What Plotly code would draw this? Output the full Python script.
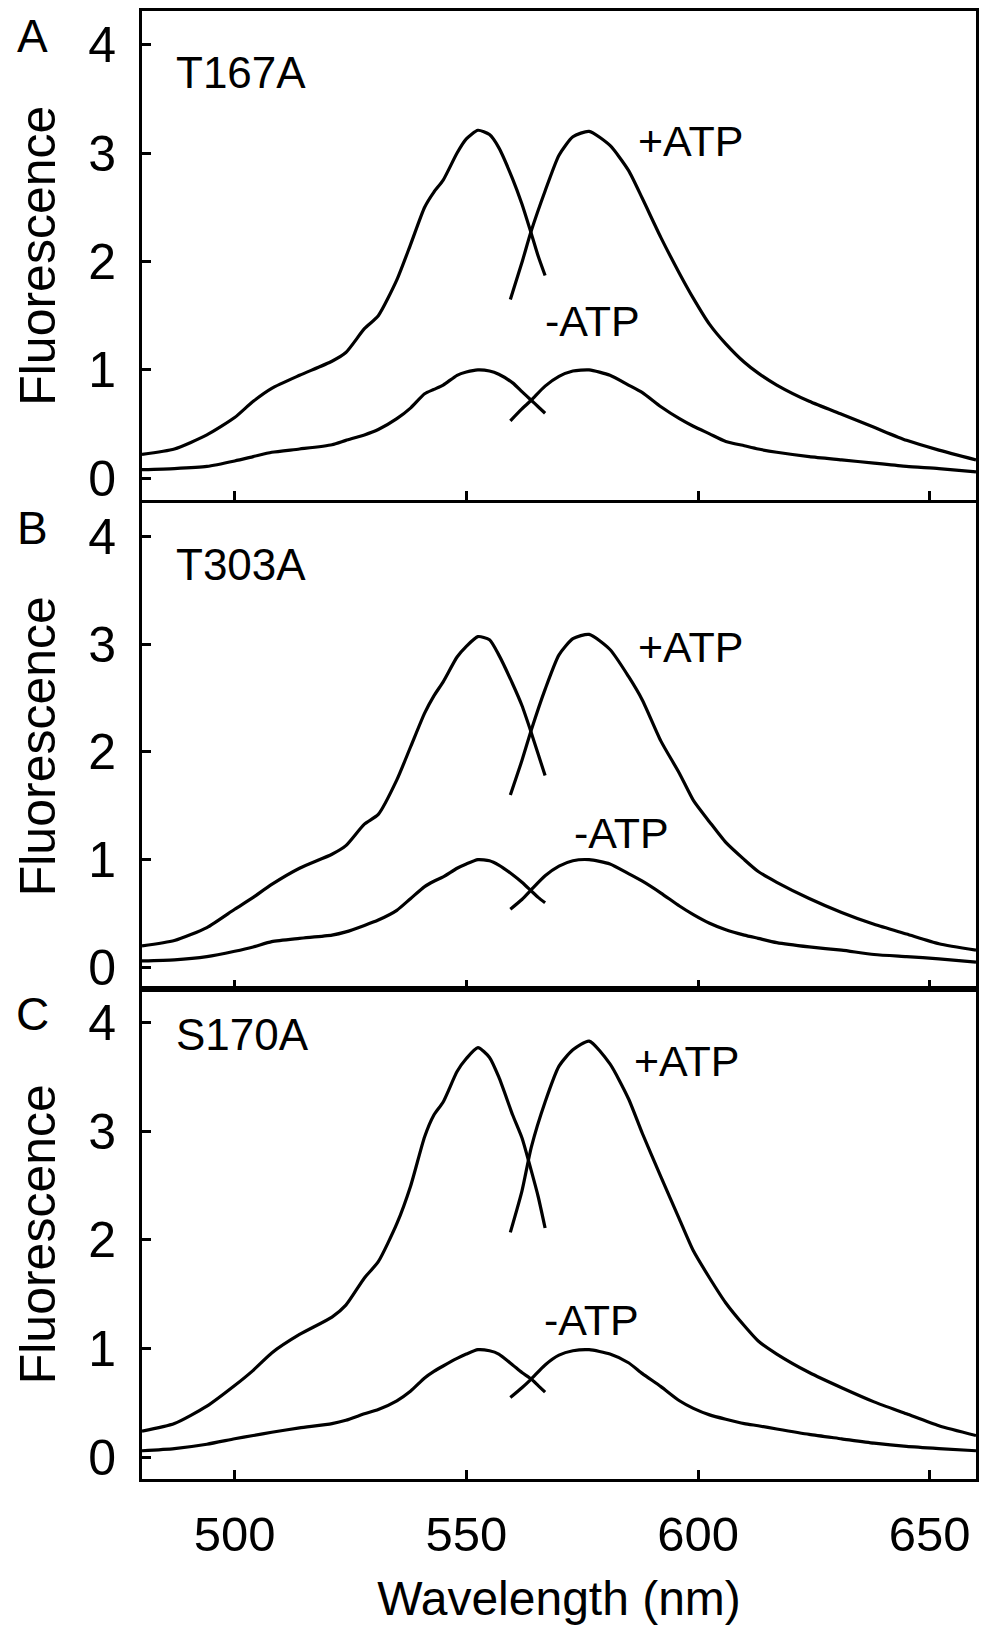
import plotly.graph_objects as go
from plotly.subplots import make_subplots

## wavelength grids (nm) for the two halves of each spectrum
wl_donor = [480, 487, 494, 500, 504, 508, 514, 521, 524, 528, 531, 535, 538, 541, 543, 545,
            548, 550, 552.5, 555, 557, 560, 562, 564, 565.5, 567]
wl_acceptor = [559.5, 562, 564, 567, 570, 573, 576.5, 581, 585, 588, 592, 596, 599, 602.5,
               606, 610, 613, 617, 624, 631, 638, 645, 652, 660]

## panel A - T167A
t167a_plus_donor = [0.22, 0.27, 0.40, 0.56, 0.71, 0.83, 0.95, 1.08, 1.16, 1.38, 1.50, 1.83, 2.16,
                    2.50, 2.64, 2.75, 3.00, 3.13, 3.21, 3.17, 3.05, 2.76, 2.53, 2.26, 2.05, 1.87]
t167a_plus_acceptor = [1.65, 1.99, 2.28, 2.65, 2.98, 3.15, 3.20, 3.07, 2.84, 2.58, 2.22, 1.89, 1.66,
                       1.42, 1.24, 1.07, 0.97, 0.86, 0.71, 0.59, 0.47, 0.35, 0.26, 0.17]
t167a_minus_donor = [0.08, 0.09, 0.11, 0.16, 0.20, 0.24, 0.27, 0.31, 0.35, 0.40, 0.45, 0.55, 0.65,
                     0.78, 0.82, 0.86, 0.95, 0.98, 1.00, 0.99, 0.96, 0.88, 0.80, 0.72, 0.66, 0.60]
t167a_minus_acceptor = [0.53, 0.64, 0.72, 0.85, 0.94, 0.99, 1.00, 0.95, 0.86, 0.79, 0.66, 0.55, 0.48,
                        0.41, 0.34, 0.30, 0.27, 0.24, 0.20, 0.17, 0.14, 0.11, 0.09, 0.06]

## panel B - T303A
t303a_plus_donor = [0.20, 0.25, 0.37, 0.54, 0.65, 0.77, 0.92, 1.05, 1.13, 1.33, 1.42, 1.74, 2.05,
                    2.36, 2.52, 2.65, 2.88, 2.98, 3.07, 3.04, 2.90, 2.63, 2.43, 2.18, 1.98, 1.78]
t303a_plus_acceptor = [1.60, 1.92, 2.20, 2.58, 2.90, 3.05, 3.09, 2.95, 2.70, 2.48, 2.10, 1.80, 1.55,
                       1.35, 1.16, 1.00, 0.89, 0.79, 0.64, 0.51, 0.40, 0.31, 0.22, 0.16]
t303a_minus_donor = [0.06, 0.07, 0.10, 0.15, 0.19, 0.24, 0.27, 0.30, 0.33, 0.39, 0.44, 0.53, 0.64,
                     0.75, 0.80, 0.84, 0.92, 0.96, 1.00, 0.99, 0.95, 0.86, 0.79, 0.71, 0.65, 0.60]
t303a_minus_acceptor = [0.54, 0.63, 0.72, 0.85, 0.94, 0.99, 1.00, 0.96, 0.87, 0.80, 0.69, 0.57, 0.49,
                        0.41, 0.35, 0.30, 0.27, 0.23, 0.19, 0.16, 0.12, 0.10, 0.08, 0.05]

## panel C - S170A
s170a_plus_donor = [0.24, 0.31, 0.47, 0.66, 0.80, 0.96, 1.13, 1.29, 1.40, 1.65, 1.80, 2.15, 2.50,
                    2.95, 3.15, 3.27, 3.55, 3.67, 3.77, 3.68, 3.50, 3.15, 2.94, 2.64, 2.40, 2.11]
s170a_plus_acceptor = [2.07, 2.45, 2.85, 3.27, 3.60, 3.75, 3.83, 3.62, 3.30, 2.98, 2.58, 2.19, 1.90,
                       1.65, 1.42, 1.21, 1.07, 0.95, 0.78, 0.64, 0.51, 0.40, 0.29, 0.20]
s170a_minus_donor = [0.06, 0.08, 0.12, 0.17, 0.20, 0.23, 0.27, 0.31, 0.34, 0.40, 0.44, 0.52, 0.61,
                     0.73, 0.79, 0.84, 0.91, 0.95, 0.99, 0.98, 0.95, 0.85, 0.78, 0.72, 0.66, 0.60]
s170a_minus_acceptor = [0.55, 0.64, 0.72, 0.85, 0.94, 0.98, 0.99, 0.95, 0.87, 0.77, 0.65, 0.52, 0.45,
                        0.39, 0.35, 0.31, 0.29, 0.26, 0.21, 0.17, 0.13, 0.10, 0.08, 0.06]

mutants = ["T167A", "T303A", "S170A"]
letters = ["A", "B", "C"]
## label positions (data coords): mutant name, +ATP, -ATP
name_pos = [(487, 3.74), (487, 3.74), (487, 3.89)]
plus_pos = [(586.7, 3.11), (586.7, 2.97), (585.8, 3.65)]
minus_pos = [(566.5, 1.45), (572.9, 1.25), (566.3, 1.26)]

curves = [
    [t167a_plus_donor, t167a_plus_acceptor, t167a_minus_donor, t167a_minus_acceptor],
    [t303a_plus_donor, t303a_plus_acceptor, t303a_minus_donor, t303a_minus_acceptor],
    [s170a_plus_donor, s170a_plus_acceptor, s170a_minus_donor, s170a_minus_acceptor],
]

FONT = "Liberation Sans, Arial, sans-serif"

fig = make_subplots(rows=3, cols=1, shared_xaxes=True, vertical_spacing=0)

for i, panel in enumerate(curves):
    for j, ys in enumerate(panel):
        xs = wl_donor if j % 2 == 0 else wl_acceptor
        fig.add_trace(go.Scatter(x=xs, y=ys, mode="lines",
                                 line=dict(color="black", width=3.2, shape="spline", smoothing=0.6),
                                 showlegend=False, hoverinfo="skip"),
                      row=i + 1, col=1)

## panel domains: A/B lines coincide (thin joint), B/C lines abut (thick joint)
domains = [[0.6669, 1.0], [0.3338, 0.6649], [0.0, 0.3338]]

annotations = []
for i in range(3):
    yref = "y" if i == 0 else "y%d" % (i + 1)
    xref = "x" if i == 0 else "x%d" % (i + 1)
    d0, d1 = domains[i]
    annotations.append(dict(text=mutants[i], x=name_pos[i][0], y=name_pos[i][1], xref=xref, yref=yref,
                            xanchor="left", yanchor="middle", showarrow=False, font=dict(size=44)))
    annotations.append(dict(text="+ATP", x=plus_pos[i][0], y=plus_pos[i][1], xref=xref, yref=yref,
                            xanchor="left", yanchor="middle", showarrow=False, font=dict(size=43)))
    annotations.append(dict(text="-ATP", x=minus_pos[i][0], y=minus_pos[i][1], xref=xref, yref=yref,
                            xanchor="left", yanchor="middle", showarrow=False, font=dict(size=43)))
    annotations.append(dict(text=letters[i], x=-0.1314, y=d1 - 0.017, xref="paper", yref="paper",
                            xanchor="center", yanchor="middle", showarrow=False, font=dict(size=46)))
    annotations.append(dict(text="Fluorescence", x=-0.1243, y=(d0 + d1) / 2, xref="paper", yref="paper",
                            xanchor="center", yanchor="middle", textangle=-90, showarrow=False,
                            font=dict(size=50)))

    fig.update_yaxes(domain=domains[i], range=[-0.2, 4.31], tickvals=[0, 1, 2, 3, 4],
                     ticks="inside", ticklen=9, tickwidth=3, tickcolor="black",
                     showline=True, linewidth=3, linecolor="black", mirror=True,
                     showgrid=False, zeroline=False, ticklabelstandoff=13,
                     tickfont=dict(size=50), row=i + 1, col=1)
    fig.update_xaxes(range=[480, 660], tickvals=[500, 550, 600, 650],
                     ticks="inside", ticklen=9, tickwidth=3, tickcolor="black",
                     showline=True, linewidth=3, linecolor="black", mirror=True,
                     showgrid=False, zeroline=False, showticklabels=(i == 2),
                     row=i + 1, col=1)

fig.update_xaxes(tickfont=dict(size=49), ticklabelstandoff=10,
                 title=dict(text="Wavelength (nm)", font=dict(size=48), standoff=22), row=3, col=1)

fig.update_layout(width=987, height=1640, plot_bgcolor="white", paper_bgcolor="white",
                  font=dict(family=FONT, color="black"),
                  margin=dict(l=142, r=8, t=8, b=161),
                  annotations=annotations)

## drop the page's default body margin so the figure sits at the window origin
fig.write_html("out.html", config={"displayModeBar": False},
               post_script="document.body.style.margin='0px';document.body.style.overflow='hidden';")
